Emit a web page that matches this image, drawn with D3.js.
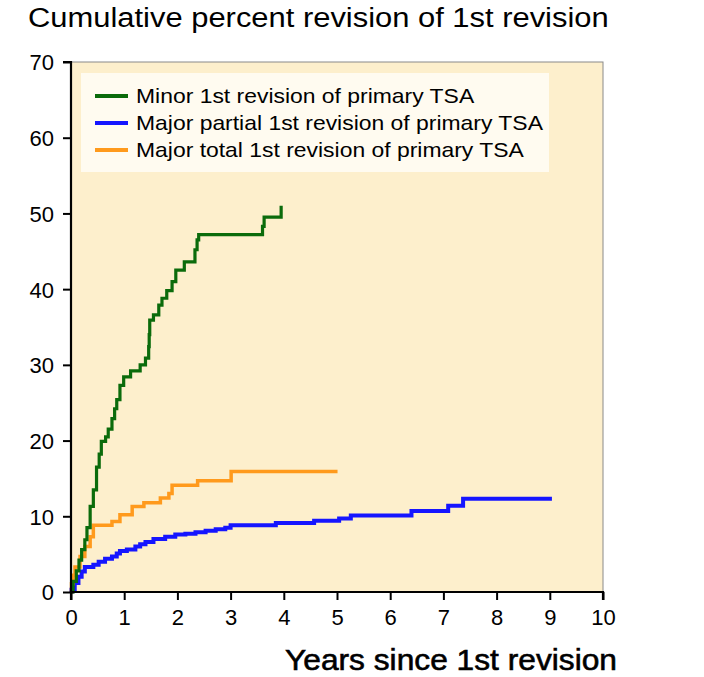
<!DOCTYPE html>
<html><head><meta charset="utf-8">
<script src="https://cdn.jsdelivr.net/npm/d3@7"></script>
<style>body{margin:0;background:#fff;} text{font-family:"Liberation Sans",Arial,sans-serif;fill:#000;}</style>
</head><body>
<svg id="c" width="704" height="677"></svg>
<script>
const title = "Cumulative percent revision of 1st revision";
const xTitle = "Years since 1st revision";
const xTicks = [0,1,2,3,4,5,6,7,8,9,10];
const yTicks = [0,10,20,30,40,50,60,70];
const seriesNames = ["Minor 1st revision of primary TSA","Major partial 1st revision of primary TSA","Major total 1st revision of primary TSA"];
const seriesColors = ["#0b6b0b","#1515ff","#ff9a1c"];
const minor = [[0,0],[0.04,1.4],[0.1,2.8],[0.15,4.2],[0.2,5.6],[0.26,6.9],[0.3,8.5],[0.36,11.3],[0.42,13.5],[0.48,16.5],[0.53,18.2],[0.57,19.9],[0.65,20.5],[0.7,21.5],[0.77,22.9],[0.82,24.2],[0.86,25.4],[0.92,27.3],[0.99,28.4],[1.12,29.2],[1.3,30.0],[1.4,30.9],[1.46,32.4],[1.47,34.0],[1.48,35.9],[1.55,36.6],[1.65,37.9],[1.71,38.8],[1.8,39.8],[1.9,41.0],[1.97,42.5],[2.13,43.6],[2.33,45.2],[2.37,46.5],[2.4,47.2],[3.6,48.3],[3.63,49.5],[3.95,50.8],[3.98,50.8]];
const majorPartial = [[0,0],[0.01,0.3],[0.07,1.2],[0.14,2.0],[0.2,2.7],[0.26,3.3],[0.42,3.6],[0.52,4.0],[0.64,4.4],[0.77,4.7],[0.86,5.1],[0.92,5.4],[1.05,5.6],[1.21,6.0],[1.3,6.3],[1.4,6.6],[1.55,7.0],[1.77,7.3],[1.96,7.6],[2.15,7.7],[2.34,7.9],[2.53,8.1],[2.72,8.3],[2.9,8.5],[3.0,8.8],[3.85,9.1],[4.57,9.4],[5.04,9.7],[5.26,10.1],[6.4,10.7],[7.09,11.4],[7.37,12.3],[9.04,12.3]];
const majorTotal = [[0,0],[0.01,1.1],[0.04,2.2],[0.075,3.3],[0.17,4.7],[0.26,6.0],[0.36,7.3],[0.42,8.8],[0.77,9.3],[0.92,10.2],[1.15,11.3],[1.37,11.8],[1.68,12.4],[1.84,13.0],[1.9,14.1],[2.38,14.7],[3.01,15.9],[5.01,15.9]];
const seriesData = [minor, majorPartial, majorTotal];

const svg = d3.select("#c");
const L=71, R=603, T=62, B=592;
const x = d3.scaleLinear().domain([0,10]).range([L,R]);
const y = d3.scaleLinear().domain([0,70]).range([B,T]);

// squeeze text horizontally to a target width (condensed face look)
function squeeze(sel, x0, y0, w, anchorEnd){
  const cur = sel.node().getComputedTextLength();
  const s = w/cur;
  sel.attr("x",0).attr("y",0).attr("text-anchor", anchorEnd?"end":"start")
     .attr("transform",`translate(${x0},${y0}) scale(${s},1)`);
}

// plot background
svg.append("rect").attr("x",L).attr("y",T).attr("width",R-L).attr("height",B-T).attr("fill","#fdefcc").attr("stroke","#8a8a8a").attr("stroke-width",1);

// title
const tt = svg.append("text").attr("font-size",28).text(title);
squeeze(tt, 28, 27, 581, false);

// lines
const line = d3.line().x(d=>x(d[0])).y(d=>y(d[1])).curve(d3.curveStepAfter);
const widths=[3.2,4,3.5];
[1,2,0].forEach(i=>{
  svg.append("path").datum(seriesData[i]).attr("d",line).attr("fill","none")
    .attr("stroke",seriesColors[i]).attr("stroke-width",widths[i]).attr("stroke-linejoin","miter");
});

// axes
const ya = svg.append("g").attr("transform",`translate(${L},0)`).call(d3.axisLeft(y).tickValues(yTicks).tickSize(8).tickPadding(9));
const xa = svg.append("g").attr("transform",`translate(0,${B})`).call(d3.axisBottom(x).tickValues(xTicks).tickSize(8).tickPadding(6));
[ya,xa].forEach(a=>{
  a.attr("font-size",22).attr("font-family","Liberation Sans, Arial, sans-serif");
  a.select(".domain").attr("stroke","#000").attr("stroke-width",2.2);
  a.selectAll(".tick line").attr("stroke","#000").attr("stroke-width",2);
  a.selectAll("text").attr("font-size",22).attr("fill","#000");
});
ya.select(".domain").attr("d",`M-8,${T}H0V${B}`);
xa.select(".domain").attr("d",`M${L},8V0H${R}V8`);
xa.selectAll("text").attr("dy","0.85em");
ya.selectAll("text").attr("dy","0.36em");

// x title
const xt = svg.append("text").attr("font-size",30).attr("font-weight","bold").text(xTitle);
squeeze(xt, 617, 670, 332, true);
xt.attr("font-weight","normal").attr("stroke","#000").attr("stroke-width",0.6);
squeeze(xt, 617, 670, 332, true);

// legend
const lg = svg.append("g");
lg.append("rect").attr("x",81).attr("y",73).attr("width",468).attr("height",99).attr("fill","#fffbf0");
const rowY=[96,123,150];
const texts=[];
seriesNames.forEach((n,i)=>{
  lg.append("line").attr("x1",95).attr("x2",128).attr("y1",rowY[i]).attr("y2",rowY[i]).attr("stroke",seriesColors[i]).attr("stroke-width",4);
  texts.push(lg.append("text").attr("x",136).attr("y",rowY[i]).attr("dy","0.35em").attr("font-size",20).text(n));
});
const s = 407/texts[1].node().getComputedTextLength();
texts.forEach((t,i)=>{ t.attr("x",0).attr("y",0).attr("transform",`translate(136,${rowY[i]+7}) scale(${s},1)`).attr("dy",null); });
</script>
</body></html>
